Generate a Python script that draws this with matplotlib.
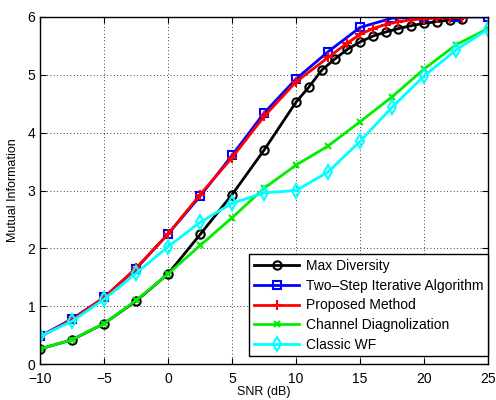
import matplotlib
matplotlib.use("Agg")
import matplotlib.pyplot as plt

plt.rcParams['font.family'] = ['Liberation Sans', 'DejaVu Sans']

# Max Diversity
snr_md = [-10, -7.5, -5, -2.5, 0, 2.5, 5, 7.5, 10, 11, 12, 13, 14, 15, 16, 17, 18, 19, 20, 21, 22, 23]
mi_md = [0.26, 0.42, 0.70, 1.09, 1.56, 2.24, 2.93, 3.70, 4.53, 4.79, 5.08, 5.27, 5.44, 5.57, 5.67, 5.74, 5.80, 5.85, 5.89, 5.92, 5.95, 5.97]

# Two-Step Iterative Algorithm
snr_ts = [-10, -7.5, -5, -2.5, 0, 2.5, 5, 7.5, 10, 12.5, 15, 17.5, 20, 22.5, 25]
mi_ts = [0.48, 0.78, 1.15, 1.65, 2.25, 2.90, 3.61, 4.34, 4.93, 5.40, 5.82, 5.98, 6.0, 6.0, 6.0]

# Proposed Method
snr_pm = [-10, -7.5, -5, -2.5, 0, 2.5, 5, 7.5, 10, 12.5, 14, 15, 16, 17, 18, 19, 20, 21, 22, 23]
mi_pm = [0.47, 0.77, 1.15, 1.66, 2.25, 2.93, 3.57, 4.28, 4.88, 5.30, 5.55, 5.70, 5.80, 5.87, 5.92, 5.95, 5.97, 5.98, 5.99, 5.99]

# Channel Diagnolization
snr_cd = [-10, -7.5, -5, -2.5, 0, 2.5, 5, 7.5, 10, 12.5, 15, 17.5, 20, 22.5, 25]
mi_cd = [0.26, 0.42, 0.70, 1.10, 1.56, 2.05, 2.53, 3.04, 3.44, 3.77, 4.19, 4.62, 5.10, 5.52, 5.80]

# Classic WF
snr_wf = [-10, -7.5, -5, -2.5, 0, 2.5, 5, 7.5, 10, 12.5, 15, 17.5, 20, 22.5, 25]
mi_wf = [0.48, 0.74, 1.12, 1.57, 2.03, 2.45, 2.78, 2.96, 3.00, 3.32, 3.85, 4.44, 4.98, 5.43, 5.79]

fig = plt.figure(figsize=(4.96, 4.0), dpi=100)
ax = fig.add_axes([0.081, 0.09, 0.903, 0.8675])

lw = 2
ax.plot(snr_md, mi_md, color='black', marker='o', mfc='none', ms=6, mew=1.5, lw=lw, label='Max Diversity')
ax.plot(snr_ts, mi_ts, color='blue', marker='s', mfc='none', ms=6, mew=1.5, lw=lw, label='Two\u2013Step Iterative Algorithm')
ax.plot(snr_pm, mi_pm, color='red', marker='+', ms=7, mew=1.5, lw=lw, label='Proposed Method')
ax.plot(snr_cd, mi_cd, color='#00ee00', marker='x', ms=5, mew=1.5, lw=lw, label='Channel Diagnolization')
ax.plot(snr_wf, mi_wf, color='cyan', marker='d', mfc='none', ms=7, mew=1.5, lw=lw, label='Classic WF')

ax.set_xlim(-10, 25)
ax.set_ylim(0, 6)
ax.set_xticks([-10, -5, 0, 5, 10, 15, 20, 25])
ax.set_xticklabels(['\u221210', '\u22125', '0', '5', '10', '15', '20', '25'])
ax.set_yticks([0, 1, 2, 3, 4, 5, 6])
ax.tick_params(direction='in', top=True, right=True, labelsize=10, length=4)
ax.tick_params(axis='x', pad=6)
ax.grid(True, linestyle=(0, (1, 3)), color='black', linewidth=0.6)
for s in ax.spines.values():
    s.set_linewidth(1.0)

ax.set_xlabel('SNR (dB)', fontsize=9, labelpad=0)
ax.set_ylabel('Mutual Information', fontsize=9, labelpad=6)

leg = ax.legend(loc='lower right', bbox_to_anchor=(1.0, 0.022), fontsize=10, fancybox=False,
                edgecolor='black', framealpha=1, handlelength=3.2, borderpad=0.35,
                labelspacing=0.4, handletextpad=0.5, borderaxespad=0.0)
leg.get_frame().set_linewidth(1.0)

fig.savefig('out.png', dpi=100)
